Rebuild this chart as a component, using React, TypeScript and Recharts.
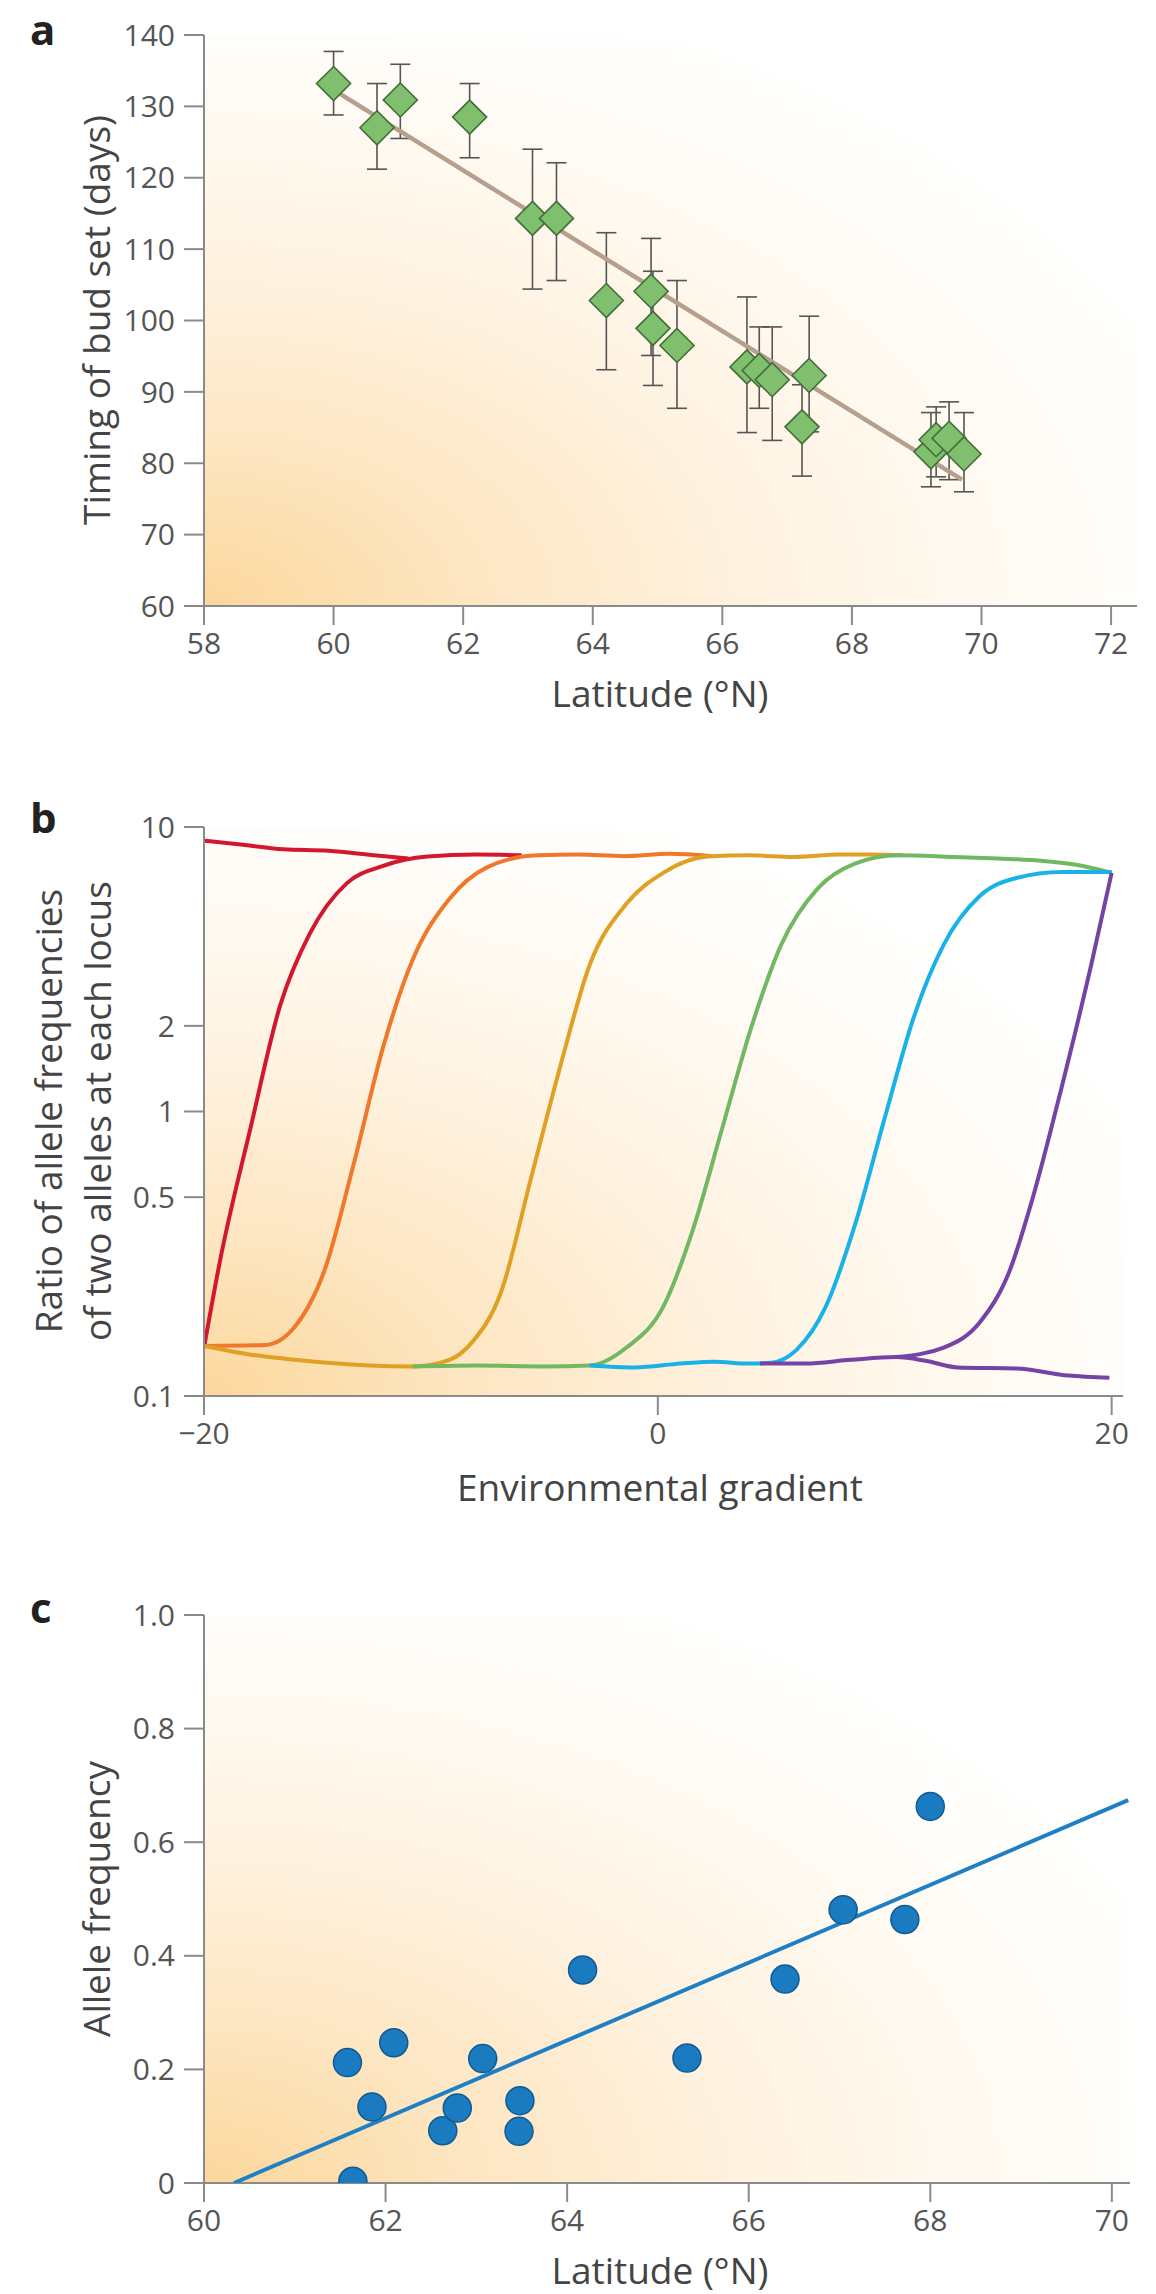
import React from 'react';
import { ScatterChart, Scatter, LineChart, Line, XAxis, YAxis, ErrorBar, ReferenceArea } from 'recharts';

const FONT = "'Open Sans', 'DejaVu Sans', sans-serif";

// ---------- Panel a ----------
const latA = [60.0, 60.67, 61.03, 62.1, 63.07, 63.44, 64.21, 64.9, 64.93, 65.3, 66.38, 66.57, 66.77, 67.34, 67.23, 69.22, 69.3, 69.5, 69.73];
const budSet = [133.2, 127.0, 130.9, 128.5, 114.3, 114.3, 102.8, 104.1, 98.9, 96.5, 93.5, 93.0, 91.7, 92.3, 85.1, 81.6, 83.3, 83.5, 81.3];
const budLow = [128.8, 121.2, 125.5, 122.8, 104.4, 105.6, 93.1, 95.1, 90.9, 87.7, 84.3, 87.7, 83.2, 84.4, 78.2, 76.7, 78.1, 77.7, 76.0];
const budHigh = [137.7, 133.2, 135.9, 133.2, 124.0, 122.1, 112.3, 111.5, 106.9, 105.6, 103.3, 99.1, 99.1, 100.6, 91.0, 87.1, 87.9, 88.6, 87.1];
const fitLatA = [60.0, 69.7];
const fitBudA = [132.3, 77.7];
const ticksA_X = [58, 60, 62, 64, 66, 68, 70, 72];
const ticksA_Y = [60, 70, 80, 90, 100, 110, 120, 130, 140];

// ---------- Panel b ----------
const redTop: [number, number][] = [[-20, 8.95], [-18.5, 8.7], [-16.5, 8.35], [-14.5, 8.25], [-12.5, 7.95], [-11, 7.75]];
const redRise: [number, number][] = [[-20, 0.148], [-19.25, 0.311], [-17.95, 0.875], [-16.65, 2.35], [-15.35, 4.2], [-13.7, 6.35], [-12.1, 7.3], [-10.15, 7.87], [-8, 8.0], [-6, 7.95]];
const orangeCurve: [number, number][] = [[-20, 0.15], [-17.3, 0.151], [-16, 0.175], [-14.7, 0.275], [-13.4, 0.655], [-12.1, 1.69], [-10.8, 3.42], [-9.18, 5.6], [-7.55, 7.2], [-5.3, 7.96], [-3.5, 8.0], [-1.5, 7.9], [0.5, 8.05], [2.4, 7.9]];
const amberCurve: [number, number][] = [[-20, 0.15], [-18, 0.14], [-16, 0.134], [-12.75, 0.128], [-10.8, 0.127], [-9.18, 0.134], [-8.2, 0.154], [-6.9, 0.233], [-5.6, 0.578], [-4.3, 1.44], [-3.0, 3.28], [-1.38, 5.38], [0.24, 6.9], [2.2, 7.87], [4, 7.95], [6, 7.85], [8, 8.0], [9.5, 8.0], [10.8, 7.95]];
const greenCurve: [number, number][] = [[-10.8, 0.127], [-8, 0.128], [-5, 0.127], [-3, 0.128], [-1.38, 0.148], [0.24, 0.206], [1.54, 0.383], [2.84, 0.875], [4.14, 2.0], [5.44, 3.86], [7.06, 6.1], [8.69, 7.44], [10.6, 7.96], [13, 7.85], [15, 7.75], [17, 7.6], [18.5, 7.35], [20, 6.9]];
const cyanCurve: [number, number][] = [[-3, 0.128], [-1, 0.126], [1, 0.13], [2.5, 0.132], [4, 0.13], [5, 0.131], [6.1, 0.145], [7.4, 0.206], [8.69, 0.4], [10, 0.95], [11.3, 2.17], [12.6, 3.86], [14.2, 5.73], [15.8, 6.62], [17.8, 6.95], [20, 6.95]];
const purpleLow: [number, number][] = [[4.5, 0.13], [6.5, 0.13], [8.5, 0.134], [10.5, 0.137], [11.8, 0.133], [13.2, 0.126], [15.8, 0.125], [18.1, 0.118], [19.9, 0.116]];
const purpleRise: [number, number][] = [[10.5, 0.137], [12.6, 0.148], [14.2, 0.182], [15.5, 0.275], [16.5, 0.49], [17.8, 1.22], [19.1, 3.28], [20, 6.9]];
const ticksB_X = [-20, 0, 20];
const ticksB_Y = [0.1, 0.5, 1, 2, 10];

// ---------- Panel c ----------
const latC = [61.58, 61.64, 61.85, 62.09, 62.63, 62.79, 63.07, 63.48, 63.47, 64.17, 65.32, 66.4, 67.04, 67.72, 68.0];
const alleleFreq = [0.212, 0.003, 0.134, 0.247, 0.092, 0.132, 0.219, 0.145, 0.091, 0.375, 0.22, 0.359, 0.481, 0.464, 0.663];
const fitLatC = [60.33, 70.18];
const fitFreqC = [0.0, 0.674];
const ticksC_X = [60, 62, 64, 66, 68, 70];
const ticksC_Y = [0, 0.2, 0.4, 0.6, 0.8, 1.0];

const pts = (xs: number[], ys: number[]) => xs.map((x, i) => ({ x, y: ys[i] }));
const pairs = (p: [number, number][]) => p.map(([x, y]) => ({ x, y }));

const dataA = latA.map((x, i) => ({ x, y: budSet[i], err: [budSet[i] - budLow[i], budHigh[i] - budSet[i]] }));
const fitA = pts(fitLatA, fitBudA);
const dataC = pts(latC, alleleFreq);
const fitC = pts(fitLatC, fitFreqC);

const AXIS = '#8a8a8a';
const tickStyle = { fill: '#555', fontSize: 30, fontFamily: FONT };

const Title = ({ text, x, y, rotate }: { text: string; x: number; y: number; rotate?: boolean }) => (
  <text
    x={x}
    y={y}
    textAnchor="middle"
    dominantBaseline="central"
    transform={rotate ? `rotate(-90 ${x} ${y})` : undefined}
    fontFamily={FONT}
    fontSize={37}
    fill="#444"
  >
    {text}
  </text>
);

const TitleGroup = ({ items }: { items: { text: string; x: number; y: number; rotate?: boolean }[] }) => (
  <g>
    {items.map((it, i) => (
      <Title key={i} {...it} />
    ))}
  </g>
);

const Diamond = (props: any) => {
  const { cx, cy } = props;
  if (cx == null || cy == null) return <g />;
  const r = 17;
  return (
    <polygon
      points={`${cx},${cy - r} ${cx + r},${cy} ${cx},${cy + r} ${cx - r},${cy}`}
      fill="#7fbf6d"
      stroke="#3f6e38"
      strokeWidth={1.6}
    />
  );
};

const Dot = (props: any) => {
  const { cx, cy } = props;
  if (cx == null || cy == null) return <g />;
  return <circle cx={cx} cy={cy} r={14} fill="#1a7bc1" stroke="#0f5a92" strokeWidth={1.5} />;
};

const NoShape = () => <g />;

const curveLine = (key: string, data: [number, number][], color: string) => (
  <Line
    key={key}
    data={pairs(data)}
    dataKey="y"
    type="monotone"
    stroke={color}
    strokeWidth={4}
    dot={false}
    activeDot={false}
    isAnimationActive={false}
    legendType="none"
  />
);

export default function App() {
  return (
    <div style={{ position: 'absolute', left: 0, top: 0, width: 1156, height: 2294, background: '#fff', overflow: 'hidden' }}>
      <svg width={0} height={0} style={{ position: 'absolute' }}>
        <defs>
          <radialGradient id="bgGrad" cx="0" cy="1" r="1.15" fx="0" fy="1">
            <stop offset="0" stopColor="#fcd79c" />
            <stop offset="0.25" stopColor="#fde6c2" />
            <stop offset="0.55" stopColor="#fff4e4" />
            <stop offset="0.85" stopColor="#fffdf9" />
            <stop offset="1" stopColor="#ffffff" />
          </radialGradient>
        </defs>
      </svg>

      {/* Panel a */}
      <div style={{ position: 'absolute', left: 0, top: 0 }}>
        <ScatterChart width={1156} height={730} margin={{ top: 35, right: 19, bottom: 64, left: 104 }}>
          <XAxis
            type="number"
            dataKey="x"
            domain={[58, 72.4]}
            ticks={ticksA_X}
            allowDataOverflow
            height={60}
            stroke={AXIS}
            strokeWidth={2}
            tickSize={19}
            tickMargin={8}
            tick={tickStyle}
            label={<TitleGroup items={[{ text: 'Latitude (°N)', x: 660, y: 692 }]} />}
          />
          <YAxis
            type="number"
            dataKey="y"
            domain={[60, 140]}
            ticks={ticksA_Y}
            allowDataOverflow
            width={100}
            stroke={AXIS}
            strokeWidth={2}
            tickSize={20}
            tickMargin={9}
            tick={tickStyle}
            label={<TitleGroup items={[{ text: 'Timing of bud set (days)', x: 95, y: 320, rotate: true }]} />}
          />
          <ReferenceArea x1={58} x2={72.4} y1={60} y2={140} fill="url(#bgGrad)" fillOpacity={1} stroke="none" />
          <Scatter
            data={fitA}
            fill="#b5a08e"
            line={{ stroke: '#b5a08e', strokeWidth: 4.5 }}
            shape={NoShape}
            isAnimationActive={false}
            legendType="none"
          />
          <Scatter data={dataA} shape={Diamond} isAnimationActive={false} legendType="none">
            <ErrorBar dataKey="err" direction="y" width={10} stroke="#555" strokeWidth={1.6} />
          </Scatter>
        </ScatterChart>
      </div>

      {/* Panel b */}
      <div style={{ position: 'absolute', left: 0, top: 740 }}>
        <LineChart width={1156} height={780} margin={{ top: 87, right: 33, bottom: 64, left: 104 }}>
          <XAxis
            type="number"
            dataKey="x"
            domain={[-20, 20.5]}
            ticks={ticksB_X}
            allowDataOverflow
            height={60}
            stroke={AXIS}
            strokeWidth={2}
            tickSize={19}
            tickMargin={8}
            tick={tickStyle}
            tickFormatter={(v: number) => (v < 0 ? `\u2212${Math.abs(v)}` : `${v}`)}
            label={<TitleGroup items={[{ text: 'Environmental gradient', x: 660, y: 746 }]} />}
          />
          <YAxis
            type="number"
            scale="log"
            domain={[0.1, 10]}
            ticks={ticksB_Y}
            allowDataOverflow
            width={100}
            stroke={AXIS}
            strokeWidth={2}
            tickSize={20}
            tickMargin={9}
            tick={tickStyle}
            label={
              <TitleGroup
                items={[
                  { text: 'Ratio of allele frequencies', x: 47, y: 371, rotate: true },
                  { text: 'of two alleles at each locus', x: 96, y: 371, rotate: true },
                ]}
              />
            }
          />
          <ReferenceArea x1={-20} x2={20.5} y1={0.1} y2={10} fill="url(#bgGrad)" fillOpacity={1} stroke="none" />
          {curveLine('redTop', redTop, '#d3172e')}
          {curveLine('redRise', redRise, '#d3172e')}
          {curveLine('orange', orangeCurve, '#f0782a')}
          {curveLine('amber', amberCurve, '#e0a023')}
          {curveLine('green', greenCurve, '#72b862')}
          {curveLine('cyan', cyanCurve, '#19b2e8')}
          {curveLine('purpleLow', purpleLow, '#7443a6')}
          {curveLine('purpleRise', purpleRise, '#7443a6')}
        </LineChart>
      </div>

      {/* Panel c */}
      <div style={{ position: 'absolute', left: 0, top: 1540 }}>
        <ScatterChart width={1156} height={754} margin={{ top: 75, right: 26, bottom: 51, left: 104 }}>
          <XAxis
            type="number"
            dataKey="x"
            domain={[60, 70.2]}
            ticks={ticksC_X}
            allowDataOverflow
            height={60}
            stroke={AXIS}
            strokeWidth={2}
            tickSize={19}
            tickMargin={8}
            tick={tickStyle}
            label={<TitleGroup items={[{ text: 'Latitude (°N)', x: 660, y: 729 }]} />}
          />
          <YAxis
            type="number"
            dataKey="y"
            domain={[0, 1]}
            ticks={ticksC_Y}
            allowDataOverflow
            width={100}
            stroke={AXIS}
            strokeWidth={2}
            tickSize={20}
            tickMargin={9}
            tick={tickStyle}
            tickFormatter={(v: number) => (v === 0 ? '0' : v.toFixed(1))}
            label={<TitleGroup items={[{ text: 'Allele frequency', x: 95, y: 359, rotate: true }]} />}
          />
          <ReferenceArea x1={60} x2={70.2} y1={0} y2={1} fill="url(#bgGrad)" fillOpacity={1} stroke="none" />
          <Scatter
            data={fitC}
            fill="#1e7fc4"
            line={{ stroke: '#1e7fc4', strokeWidth: 4 }}
            shape={NoShape}
            isAnimationActive={false}
            legendType="none"
          />
          <Scatter data={dataC} shape={Dot} isAnimationActive={false} legendType="none" />
        </ScatterChart>
      </div>

      {/* Panel letters */}
      <svg width={1156} height={2294} style={{ position: 'absolute', left: 0, top: 0, pointerEvents: 'none' }}>
        <text x={30} y={45} fontFamily={FONT} fontWeight={700} fontSize={42} fill="#222">a</text>
        <text x={30} y={833} fontFamily={FONT} fontWeight={700} fontSize={42} fill="#222">b</text>
        <text x={30} y={1623} fontFamily={FONT} fontWeight={700} fontSize={42} fill="#222">c</text>
      </svg>
    </div>
  );
}
